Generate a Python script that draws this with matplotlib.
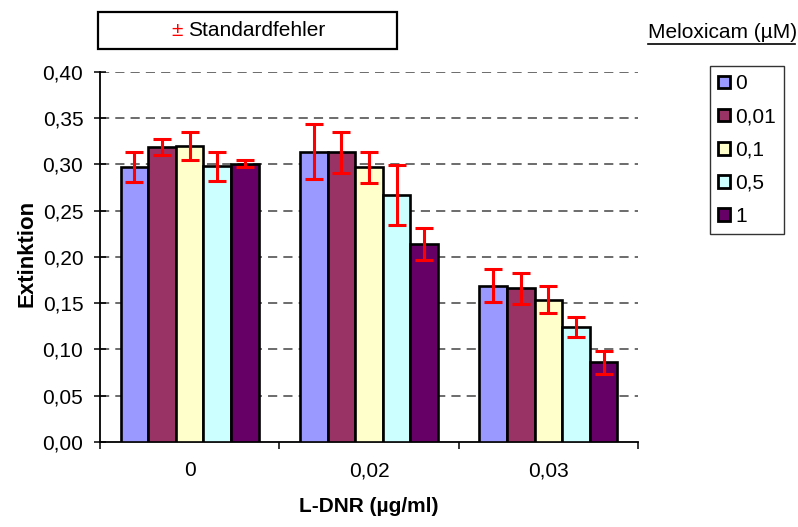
import numpy as np
import matplotlib
matplotlib.use("Agg")
import matplotlib.pyplot as plt
from matplotlib.lines import Line2D
from matplotlib.patches import Rectangle

plt.rcParams['font.family'] = ['Liberation Sans', 'DejaVu Sans']

# data
dnr_labels = ["0", "0,02", "0,03"]
melox_labels = ["0", "0,01", "0,1", "0,5", "1"]
melox_colors = ["#9999FF", "#993366", "#FFFFCC", "#CCFFFF", "#660066"]

# one list per meloxicam level, values for the 3 L-DNR groups
ext_0 = [0.297, 0.314, 0.169]
ext_001 = [0.319, 0.313, 0.166]
ext_01 = [0.320, 0.297, 0.154]
ext_05 = [0.298, 0.267, 0.124]
ext_1 = [0.301, 0.214, 0.086]

se_0 = [0.016, 0.030, 0.018]
se_001 = [0.009, 0.022, 0.017]
se_01 = [0.015, 0.017, 0.015]
se_05 = [0.016, 0.032, 0.011]
se_1 = [0.004, 0.017, 0.012]

y_ticks = [0.0, 0.05, 0.10, 0.15, 0.20, 0.25, 0.30, 0.35, 0.40]

values = [ext_0, ext_001, ext_01, ext_05, ext_1]
errors = [se_0, se_001, se_01, se_05, se_1]

fig = plt.figure(figsize=(7.98, 5.27), dpi=100)
ax = fig.add_axes([0.1253, 0.1613, 0.6742, 0.7021])

x = np.arange(len(dnr_labels))
w = 0.154
handles = []
for i, (vals, errs) in enumerate(zip(values, errors)):
    pos = x + (i - 2) * w
    b = ax.bar(pos, vals, w, color=melox_colors[i], edgecolor='black',
               linewidth=1.9, zorder=3, label=melox_labels[i])
    ax.errorbar(pos, vals, yerr=errs, fmt='none', ecolor='#FF0000',
                elinewidth=2.2, capsize=6.2, capthick=2.2, zorder=4)
    handles.append(b)

ax.set_xlim(-0.5, 2.5)
ax.set_ylim(0, 0.40)
ax.set_yticks(y_ticks)
ax.set_yticklabels([f"{v:.2f}".replace('.', ',') for v in y_ticks], fontsize=15)
for v in y_ticks[1:]:
    ax.axhline(v, color='#444444', linestyle=(0, (6, 4)), linewidth=1.1, zorder=1)

ax.set_xticks(x)
ax.set_xticklabels(dnr_labels, fontsize=15)
ax.tick_params(axis='x', length=0, pad=14)
ax.set_xticks(np.arange(-0.5, 3.0, 1.0), minor=True)
ax.tick_params(axis='x', which='minor', length=5, width=1.1, direction='out')
ax.tick_params(axis='y', length=8, width=1.1, direction='inout', pad=8)

ax.spines['top'].set_visible(False)
ax.spines['right'].set_visible(False)
ax.spines['left'].set_linewidth(1.3)
ax.spines['bottom'].set_linewidth(1.3)

ax.set_xlabel("L-DNR (µg/ml)", fontsize=15, fontweight='bold', labelpad=12)
ax.set_ylabel("Extinktion", fontsize=16, fontweight='bold')
ax.yaxis.set_label_coords(-0.117, 0.51)

# legend
leg = fig.legend(handles=handles, labels=melox_labels, loc='upper left',
                 bbox_to_anchor=(710 / 798, 1 - 66 / 527), fontsize=15,
                 frameon=True, fancybox=False, edgecolor='black',
                 handlelength=0.55, handleheight=0.55, handletextpad=0.25,
                 labelspacing=0.68, borderpad=0.4, borderaxespad=0)
leg.get_frame().set_linewidth(1.0)
for p in leg.get_patches():
    p.set_linewidth(2.0)

# legend title, underlined
fig.text(648 / 798, 1 - 33 / 527, "Meloxicam (µM)", fontsize=15,
         ha='left', va='center')
fig.add_artist(Line2D([648 / 798, 795 / 798], [1 - 44 / 527, 1 - 44 / 527],
                      color='black', linewidth=1.2))

# standard error box
fig.add_artist(Rectangle((98 / 798, 1 - 49 / 527), 299 / 798, 37 / 527,
                         transform=fig.transFigure, facecolor='white',
                         edgecolor='black', linewidth=1.6))
fig.text(177 / 798, 1 - 31 / 527, "±", color='#FF0000', fontsize=15,
         ha='center', va='center')
fig.text(188 / 798, 1 - 31 / 527, "Standardfehler", color='black', fontsize=15,
         ha='left', va='center')

fig.savefig("out.png", dpi=100)
